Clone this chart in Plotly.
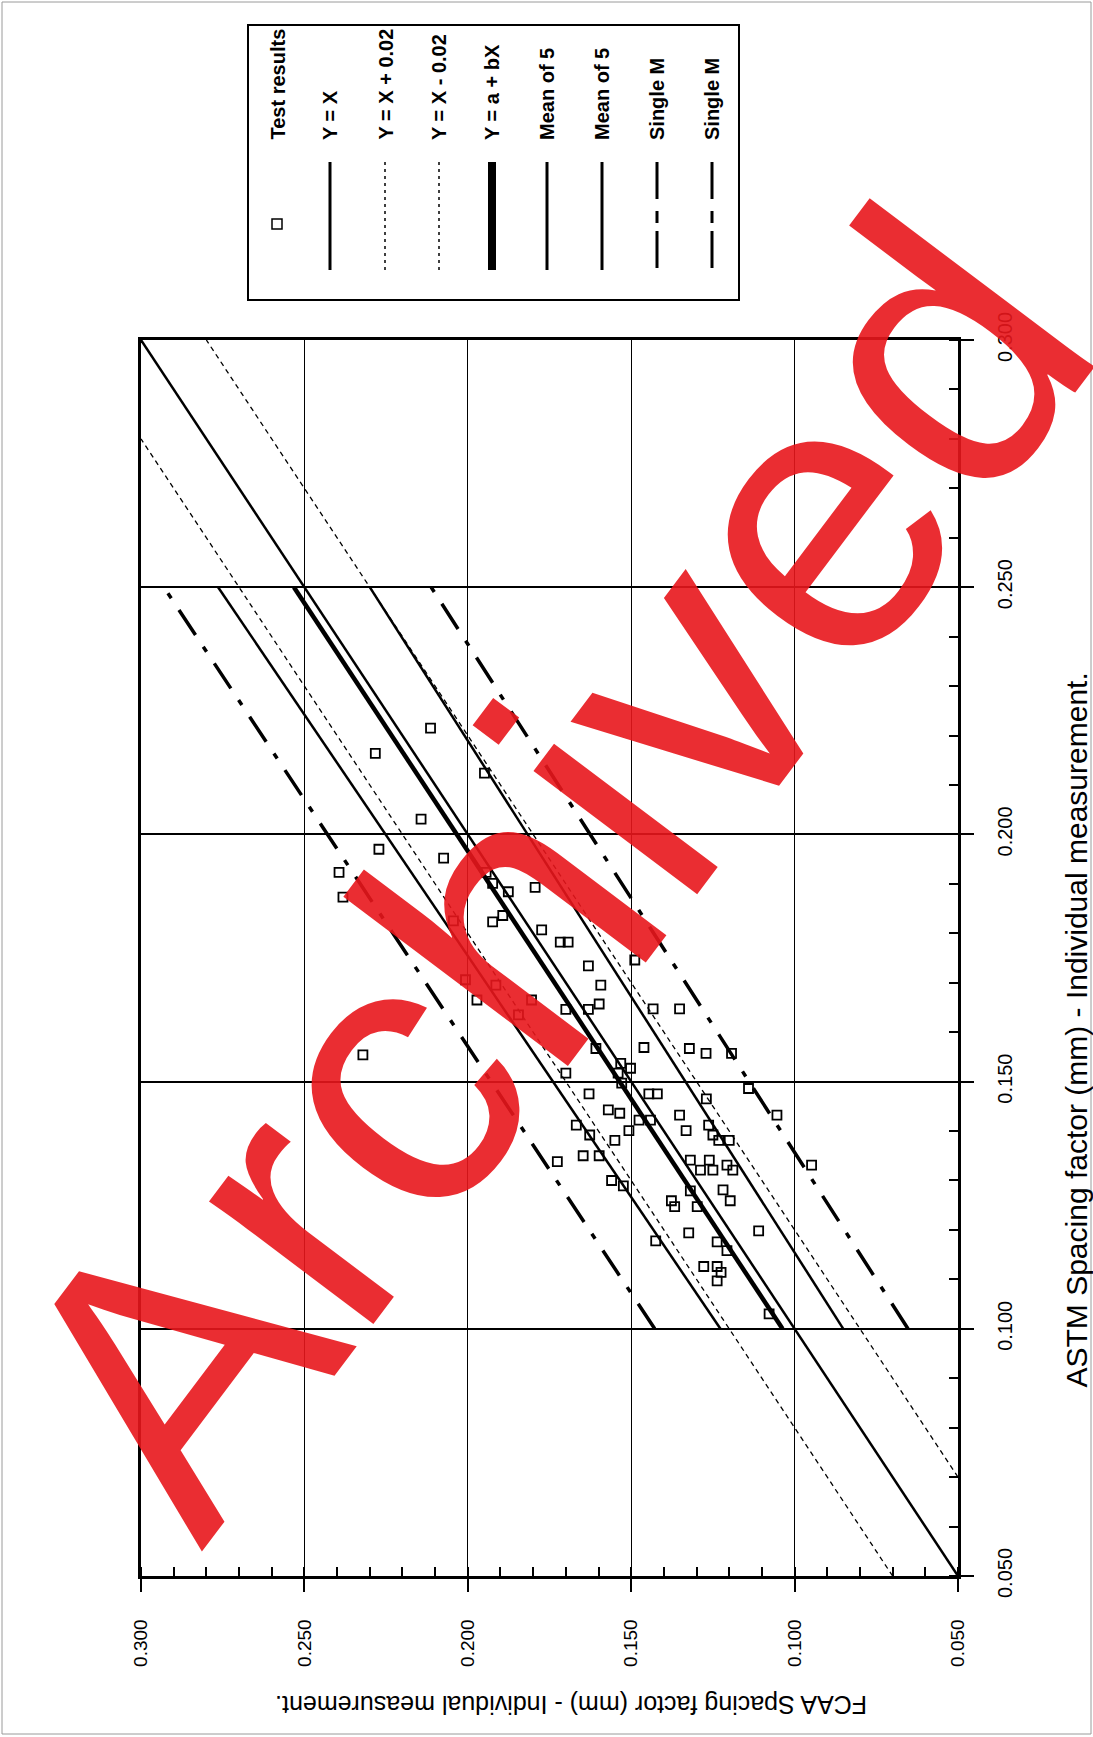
import plotly.graph_objects as go

# Test results: ASTM spacing factor (mm) and FCAA spacing factor (mm), individual measurements
astm = [0.2215, 0.2164, 0.2124, 0.2031, 0.1970, 0.1952, 0.1923, 0.1873, 0.1923, 0.1901,
        0.1884, 0.1893, 0.1825, 0.1823, 0.1836, 0.1807, 0.1706, 0.1695, 0.1665, 0.1665,
        0.1635, 0.1554, 0.1782, 0.1782, 0.1746, 0.1734, 0.1695, 0.1646, 0.1646, 0.1657,
        0.1647, 0.1647, 0.1567, 0.1569, 0.1567, 0.1557, 0.1557, 0.1517, 0.1537, 0.1527,
        0.1517, 0.1497, 0.1475, 0.1475, 0.1475, 0.1465, 0.1486, 0.1443, 0.1436, 0.1412,
        0.1392, 0.1381, 0.1401, 0.1422, 0.1422, 0.1432, 0.1412, 0.1401, 0.1392, 0.1381,
        0.1381, 0.1432, 0.1338, 0.1350, 0.1350, 0.1341, 0.1341, 0.1321, 0.1321, 0.1331,
        0.1321, 0.1300, 0.1289, 0.1279, 0.1281, 0.1259, 0.1259, 0.1247, 0.1247, 0.1198,
        0.1178, 0.1194, 0.1176, 0.1158, 0.1126, 0.1126, 0.1114, 0.1097, 0.1030, 0.1331]
fcaa = [0.2114, 0.2283, 0.1949, 0.2143, 0.2272, 0.2074, 0.2394, 0.2382, 0.1944, 0.1924,
        0.1876, 0.1794, 0.2044, 0.1924, 0.1893, 0.1774, 0.2007, 0.1914, 0.1972, 0.1805,
        0.1845, 0.2321, 0.1717, 0.1693, 0.1489, 0.1631, 0.1593, 0.1700, 0.1631, 0.1598,
        0.1433, 0.1352, 0.1608, 0.1461, 0.1322, 0.1271, 0.1193, 0.1700, 0.1532, 0.1502,
        0.1540, 0.1529, 0.1629, 0.1446, 0.1420, 0.1270, 0.1141, 0.1570, 0.1535, 0.1668,
        0.1627, 0.1550, 0.1507, 0.1476, 0.1441, 0.1352, 0.1263, 0.1332, 0.1250, 0.1232,
        0.1200, 0.1054, 0.1726, 0.1647, 0.1598, 0.1319, 0.1261, 0.1288, 0.1250, 0.1207,
        0.1189, 0.1560, 0.1524, 0.1319, 0.1219, 0.1197, 0.1377, 0.1367, 0.1298, 0.1110,
        0.1425, 0.1324, 0.1237, 0.1207, 0.1278, 0.1237, 0.1225, 0.1237, 0.1078, 0.0948]

# Reference lines (end points, ASTM -> FCAA)
eq_astm, eq_fcaa = [0.05, 0.30], [0.05, 0.30]            # Y = X
plus_astm, plus_fcaa = [0.05, 0.28], [0.07, 0.30]        # Y = X + 0.02
minus_astm, minus_fcaa = [0.07, 0.30], [0.05, 0.28]      # Y = X - 0.02
fit_astm, fit_fcaa = [0.10, 0.25], [0.1037, 0.2532]      # Y = a + bX
mean_hi_astm, mean_hi_fcaa = [0.10, 0.25], [0.1227, 0.2764]
mean_lo_astm, mean_lo_fcaa = [0.10, 0.25], [0.0851, 0.2300]
single_hi_astm, single_hi_fcaa = [0.10, 0.25], [0.1428, 0.2930]
single_lo_astm, single_lo_fcaa = [0.10, 0.25], [0.0653, 0.2112]

tick_vals = [0.05, 0.10, 0.15, 0.20, 0.25, 0.30]
tick_text = ["0.050", "0.100", "0.150", "0.200", "0.250", "0.300"]

legend_labels = ["Test results", "Y = X", "Y = X + 0.02", "Y = X - 0.02", "Y = a + bX",
                 "Mean of 5", "Mean of 5", "Single M", "Single M"]

# Page geometry (the chart is laid out sideways on the page)
W_PAGE, H_PAGE = 1093, 1737
L, R, T, B = 141, 958, 340, 1576


def px(x):
    return (x - L) / (R - L)


def py(y):
    return (B - y) / (B - T)


DASHDOT = "30px,14px,6px,14px"
DOTTED = "5px,4px"
NARROW = "Liberation Sans Narrow, Liberation Sans, Arial"

fig = go.Figure()


def add_line(a, f, width, dash="solid"):
    fig.add_trace(go.Scatter(x=f, y=a, mode="lines",
                             line=dict(color="black", width=width, dash=dash),
                             showlegend=False, hoverinfo="skip"))


add_line(eq_astm, eq_fcaa, 2.5)
add_line(plus_astm, plus_fcaa, 1.3, DOTTED)
add_line(minus_astm, minus_fcaa, 1.3, DOTTED)
add_line(fit_astm, fit_fcaa, 4.5)
add_line(mean_hi_astm, mean_hi_fcaa, 2.5)
add_line(mean_lo_astm, mean_lo_fcaa, 2.5)
add_line(single_hi_astm, single_hi_fcaa, 3.5, DASHDOT)
add_line(single_lo_astm, single_lo_fcaa, 3.5, DASHDOT)

fig.add_trace(go.Scatter(x=fcaa, y=astm, mode="markers",
                         marker=dict(symbol="square-open", size=9, color="black",
                                     line=dict(width=1.8, color="black")),
                         showlegend=False, hoverinfo="skip"))

axis_common = dict(
    tickvals=tick_vals, ticktext=tick_text, tickangle=-90,
    showgrid=True, gridcolor="black", zeroline=False,
    showline=True, linecolor="black", linewidth=2.5, mirror=True,
    ticks="outside", ticklen=13, tickwidth=2, tickcolor="black",
    minor=dict(dtick=0.01, ticks="inside", ticklen=9, tickwidth=1.5,
               tickcolor="black", showgrid=False),
)

fig.update_layout(
    width=W_PAGE, height=H_PAGE, autosize=False,
    margin=dict(l=L, r=W_PAGE - R, t=T, b=H_PAGE - B, pad=0),
    paper_bgcolor="white", plot_bgcolor="white",
    showlegend=False,
    xaxis=dict(range=[0.30, 0.05], gridwidth=1.3, ticklabelstandoff=20,
               tickfont=dict(family="Liberation Sans, Arial", size=19, color="black"),
               **axis_common),
    yaxis=dict(range=[0.05, 0.30], side="right", gridwidth=2, ticklabelstandoff=14,
               tickfont=dict(family=NARROW, size=20, color="black"),
               **axis_common),
)

shapes = []
annotations = []

# Axis titles
annotations.append(dict(
    text="FCAA Spacing factor (mm) - Individual measurement.",
    x=px(571), y=py(1705), xref="paper", yref="paper", showarrow=False,
    textangle=180, xanchor="center", yanchor="middle",
    font=dict(family="Liberation Sans, Arial", size=25, color="black")))
annotations.append(dict(
    text="ASTM Spacing factor (mm) - Individual measurement.",
    x=px(1076), y=py(1390), xref="paper", yref="paper", showarrow=False,
    textangle=-90, xanchor="center", yanchor="bottom",
    font=dict(family="Liberation Sans, Arial", size=30, color="black")))

# Legend box, drawn sideways
shapes.append(dict(type="rect", xref="paper", yref="paper",
                   x0=px(248), x1=px(739), y0=py(25), y1=py(300),
                   line=dict(color="black", width=2), fillcolor="white", layer="below"))
cols = [277, 330, 385, 439, 492, 547, 602, 657, 712]
for cx, lab in zip(cols, legend_labels):
    annotations.append(dict(
        text=lab, x=px(cx), y=py(142), xref="paper", yref="paper", showarrow=False,
        textangle=-90, xanchor="center", yanchor="bottom",
        font=dict(family=NARROW, size=20, color="black", weight="bold")))

legend_styles = [None,
                 dict(width=3, dash="solid"),
                 dict(width=1.5, dash="3px,4px"),
                 dict(width=1.5, dash="3px,4px"),
                 dict(width=8, dash="solid"),
                 dict(width=3, dash="solid"),
                 dict(width=3, dash="solid"),
                 dict(width=3, dash="37px,12px,12px,8px"),
                 dict(width=3, dash="37px,12px,12px,8px")]
for cx, st in zip(cols, legend_styles):
    if st is None:
        shapes.append(dict(type="rect", xref="paper", yref="paper",
                           x0=px(cx - 5), x1=px(cx + 5), y0=py(219), y1=py(229),
                           line=dict(color="black", width=1.5)))
    else:
        shapes.append(dict(type="line", xref="paper", yref="paper",
                           x0=px(cx), x1=px(cx), y0=py(162), y1=py(270),
                           line=dict(color="black", **st)))

# Thin page frame
shapes.append(dict(type="rect", xref="paper", yref="paper",
                   x0=px(2), x1=px(W_PAGE - 2), y0=py(2), y1=py(H_PAGE - 3),
                   line=dict(color="#9a9a9a", width=1)))

# Archive stamp across the page
annotations.append(dict(
    text="Archived", x=px(548), y=py(868), xref="paper", yref="paper", showarrow=False,
    textangle=-53, xanchor="center", yanchor="middle",
    font=dict(family="Liberation Sans, Arial", size=388, color="rgba(232,22,28,0.9)")))

fig.update_layout(shapes=shapes, annotations=annotations)

fig.write_html("out.html")
